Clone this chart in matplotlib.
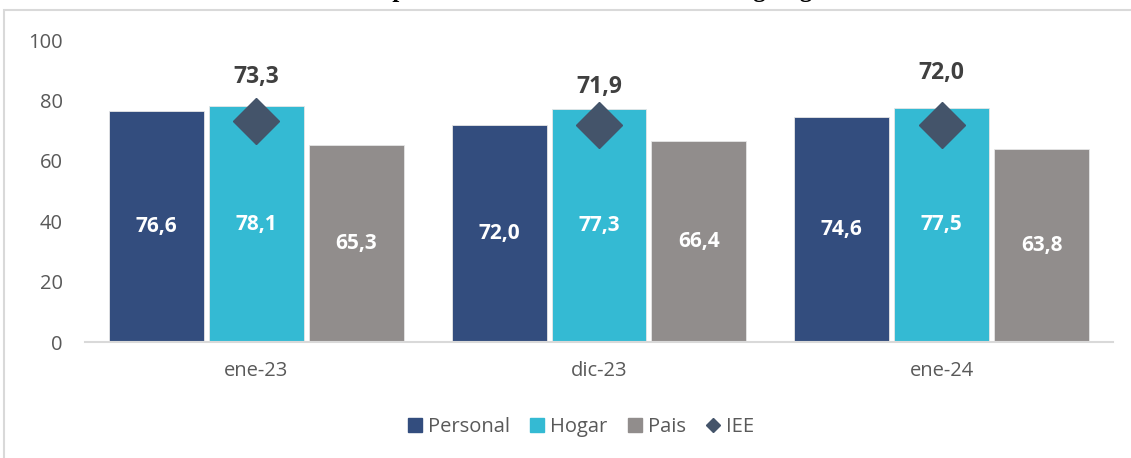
import matplotlib
matplotlib.use("Agg")
import matplotlib.pyplot as plt
from matplotlib.patches import Patch, Rectangle
from matplotlib.lines import Line2D
import numpy as np

# datos
periodos = ["ene-23", "dic-23", "ene-24"]
personal = [76.6, 72.0, 74.6]
hogar = [78.1, 77.3, 77.5]
pais = [65.3, 66.4, 63.8]
iee = [73.3, 71.9, 72.0]

# desplazamiento vertical de las etiquetas del IEE (puestas a mano en el original)
desplaz_iee = [14.4, 12.5, 17.0]

c_personal = "#334D7E"
c_hogar = "#34BAD3"
c_pais = "#918D8C"
c_iee = "#44546A"

plt.rcParams["font.family"] = ["Open Sans", "DejaVu Sans"]

fig = plt.figure(figsize=(11.31, 4.58), dpi=100)
ax = fig.add_axes([85 / 1131, 1 - 342 / 458, 1028 / 1131, 302 / 458])

# marco del grafico
fig.patches.append(Rectangle((4 / 1131, -0.1), 1.2, 1 - 10 / 458 + 0.1,
                             transform=fig.transFigure, fill=False,
                             edgecolor="#D9D9D9", linewidth=1.5))

x = np.arange(len(periodos))
paso = 100 / 342.7
ancho = 95 / 342.7

series = [(personal, c_personal, "Personal"), (hogar, c_hogar, "Hogar"), (pais, c_pais, "Pais")]
for i, (vals, col, nom) in enumerate(series):
    pos = x + (i - 1) * paso
    ax.bar(pos, vals, width=ancho, color=col, edgecolor="#E6E6E6", linewidth=0.6, zorder=2)
    for p, v in zip(pos, vals):
        ax.text(p, v / 2, f"{v:.1f}".replace(".", ","), ha="center", va="center",
                color="white", fontsize=15, fontweight="bold", zorder=4)

ax.plot(x, iee, linestyle="none", marker="D", markersize=23, color=c_iee, zorder=5)
for xi, v, d in zip(x, iee, desplaz_iee):
    ax.text(xi, v + d, f"{v:.1f}".replace(".", ","), ha="center", va="center",
            color="#404040", fontsize=16.5, fontweight="bold", zorder=6)

ax.set_xlim(-0.5, 2.5)
ax.set_ylim(0, 100)
ax.set_yticks(range(0, 101, 20))
ax.set_xticks(x)
ax.set_xticklabels(periodos)
ax.tick_params(axis="both", length=0, labelsize=14.5, colors="#595959")
ax.tick_params(axis="y", pad=16)
ax.tick_params(axis="x", pad=14)
for s in ["top", "right", "left"]:
    ax.spines[s].set_visible(False)
ax.spines["bottom"].set_color("#D9D9D9")
ax.spines["bottom"].set_linewidth(1.5)

handles = [Patch(color=c_personal), Patch(color=c_hogar), Patch(color=c_pais),
           Line2D([], [], linestyle="none", marker="D", markersize=7, color=c_iee)]
fig.legend(handles, ["Personal", "Hogar", "Pais", "IEE"], loc="center",
           bbox_to_anchor=(581 / 1131, 1 - 427 / 458), ncol=4, frameon=False,
           fontsize=14.5, labelcolor="#595959", handlelength=0.7, handleheight=0.7,
           handletextpad=0.3, columnspacing=1.0)

# titulo (recortado en la imagen original)
fig.text(0.5, 1 + 3 / 458, "Índice de Expectativas Económicas del total según género",
         ha="center", va="baseline", fontsize=18, fontweight="bold",
         family=["Liberation Serif", "DejaVu Serif"])

fig.savefig("out.png", dpi=100)
